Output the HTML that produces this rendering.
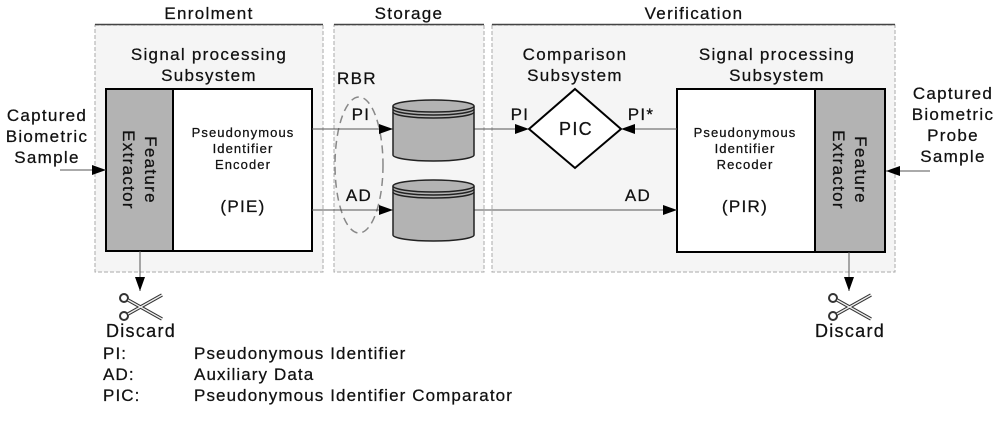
<!DOCTYPE html>
<html><head><meta charset="utf-8"><style>
html,body{margin:0;padding:0;background:#fff;width:1000px;height:425px;overflow:hidden}
text{font-family:"Liberation Sans",Arial,sans-serif;fill:#111;letter-spacing:1.3px;stroke:#111;stroke-width:0.25px}
.s{letter-spacing:1.1px}
</style></head><body>
<svg width="1000" height="425" viewBox="0 0 1000 425" xmlns="http://www.w3.org/2000/svg">
<defs>
<marker id="b" markerWidth="14" markerHeight="10" refX="14" refY="5" orient="auto" markerUnits="userSpaceOnUse"><path d="M0,0 L14,5 L0,10 Z" fill="#000"/></marker>
<g id="sc">
<circle cx="-16" cy="-9" r="4" fill="none" stroke="#333" stroke-width="2"/>
<circle cx="-16" cy="9" r="4" fill="none" stroke="#333" stroke-width="2"/>
<path d="M-12,-7 L22,12 M-12,7 L22,-12" stroke="#333" stroke-width="3.5"/>
<path d="M-12,-7 L22,12 M-12,7 L22,-12" stroke="#eee" stroke-width="1.3"/>
</g>
</defs>
<rect x="95" y="25" width="228" height="247" fill="#f5f5f5" stroke="#aaa" stroke-dasharray="4,2"/>
<rect x="334" y="25" width="150" height="247" fill="#f5f5f5" stroke="#aaa" stroke-dasharray="4,2"/>
<rect x="492" y="25" width="403" height="247" fill="#f5f5f5" stroke="#aaa" stroke-dasharray="4,2"/>
<line x1="95" y1="24.5" x2="323" y2="24.5" stroke="#444" stroke-width="1.5"/>
<line x1="334" y1="24.5" x2="484" y2="24.5" stroke="#444" stroke-width="1.5"/>
<line x1="492" y1="24.5" x2="895" y2="24.5" stroke="#444" stroke-width="1.5"/>
<g font-size="17" text-anchor="middle">
<text x="209" y="19">Enrolment</text>
<text x="409" y="19">Storage</text>
<text x="694" y="19">Verification</text>
<text x="209" y="60">Signal processing</text>
<text x="209" y="81">Subsystem</text>
<text x="575" y="60">Comparison</text>
<text x="575" y="81">Subsystem</text>
<text x="777" y="60">Signal processing</text>
<text x="777" y="81">Subsystem</text>
</g>
<rect x="106" y="89" width="206" height="162" fill="#fff" stroke="#000" stroke-width="2"/>
<rect x="106" y="89" width="67" height="162" fill="#b3b3b3" stroke="#000" stroke-width="2"/>
<text transform="translate(140,170) rotate(90)" font-size="17" text-anchor="middle"><tspan x="0" dy="-5">Feature</tspan><tspan x="0" dy="22">Extractor</tspan></text>
<rect x="677" y="89" width="208" height="163" fill="#fff" stroke="#000" stroke-width="2"/>
<rect x="815" y="89" width="70" height="163" fill="#b3b3b3" stroke="#000" stroke-width="2"/>
<text transform="translate(850,170) rotate(90)" font-size="17" text-anchor="middle"><tspan x="0" dy="-5">Feature</tspan><tspan x="0" dy="22">Extractor</tspan></text>
<g font-size="13" text-anchor="middle">
<text x="243" y="137" class="s">Pseudonymous</text>
<text x="243" y="153" class="s">Identifier</text>
<text x="243" y="169" class="s">Encoder</text>
<text x="745" y="137" class="s">Pseudonymous</text>
<text x="745" y="153" class="s">Identifier</text>
<text x="745" y="169" class="s">Recoder</text>
</g>
<text x="243" y="212" font-size="17" text-anchor="middle">(PIE)</text>
<text x="745" y="212" font-size="17" text-anchor="middle">(PIR)</text>
<text font-size="17" text-anchor="middle"><tspan x="47" y="121">Captured</tspan><tspan x="47" y="142">Biometric</tspan><tspan x="47" y="163">Sample</tspan></text>
<line x1="60" y1="170" x2="106" y2="170" stroke="#555" marker-end="url(#b)"/>
<text font-size="17" text-anchor="middle"><tspan x="953" y="99">Captured</tspan><tspan x="953" y="120">Biometric</tspan><tspan x="953" y="141">Probe</tspan><tspan x="953" y="162">Sample</tspan></text>
<line x1="930" y1="171" x2="886" y2="171" stroke="#555" marker-end="url(#b)"/>
<text x="337" y="84" font-size="17">RBR</text>
<ellipse cx="359" cy="165" rx="24" ry="68" fill="none" stroke="#888" stroke-width="1.5" stroke-dasharray="8,5"/>
<text x="361" y="120" font-size="17" text-anchor="middle">PI</text>
<text x="359" y="201" font-size="17" text-anchor="middle">AD</text>
<line x1="312" y1="129" x2="393" y2="129" stroke="#555" marker-end="url(#b)"/>
<line x1="312" y1="210" x2="393" y2="210" stroke="#555" marker-end="url(#b)"/>
<line x1="474" y1="129" x2="529" y2="129" stroke="#555" marker-end="url(#b)"/>
<line x1="677" y1="129" x2="621" y2="129" stroke="#555" marker-end="url(#b)"/>
<line x1="474" y1="210" x2="677" y2="210" stroke="#555" marker-end="url(#b)"/>
<text x="520" y="120" font-size="17" text-anchor="middle">PI</text>
<text x="641" y="120" font-size="17" text-anchor="middle">PI*</text>
<text x="638" y="201" font-size="17" text-anchor="middle">AD</text>
<g stroke="#222" stroke-width="1.5" fill="#b3b3b3">
<path d="M393,106 L393,155 A40.5,6 0 0 0 474,155 L474,106"/>
<ellipse cx="433.5" cy="106" rx="40.5" ry="6"/>
<path d="M393,109 A40.5,6 0 0 0 474,109 M393,112 A40.5,6 0 0 0 474,112" fill="none"/>
<path d="M393,186 L393,235 A40.5,6 0 0 0 474,235 L474,186"/>
<ellipse cx="433.5" cy="186" rx="40.5" ry="6"/>
<path d="M393,189 A40.5,6 0 0 0 474,189 M393,192 A40.5,6 0 0 0 474,192" fill="none"/>
</g>
<path d="M575,89 L621,129 L575,168 L529,129 Z" fill="#fff" stroke="#000" stroke-width="2"/>
<text x="576" y="135" font-size="18" text-anchor="middle">PIC</text>
<line x1="140" y1="251" x2="140" y2="291" stroke="#555" marker-end="url(#b)"/>
<line x1="849" y1="252" x2="849" y2="291" stroke="#555" marker-end="url(#b)"/>
<use href="#sc" x="140" y="307"/>
<use href="#sc" x="849" y="307"/>
<text x="141" y="337" font-size="18" text-anchor="middle">Discard</text>
<text x="850" y="337" font-size="18" text-anchor="middle">Discard</text>
<g font-size="17">
<text x="103" y="359" class="s">PI:</text><text x="194" y="359" class="s">Pseudonymous Identifier</text>
<text x="103" y="380" class="s">AD:</text><text x="194" y="380" class="s">Auxiliary Data</text>
<text x="103" y="401" class="s">PIC:</text><text x="194" y="401" class="s">Pseudonymous Identifier Comparator</text>
</g>
</svg>
</body></html>
